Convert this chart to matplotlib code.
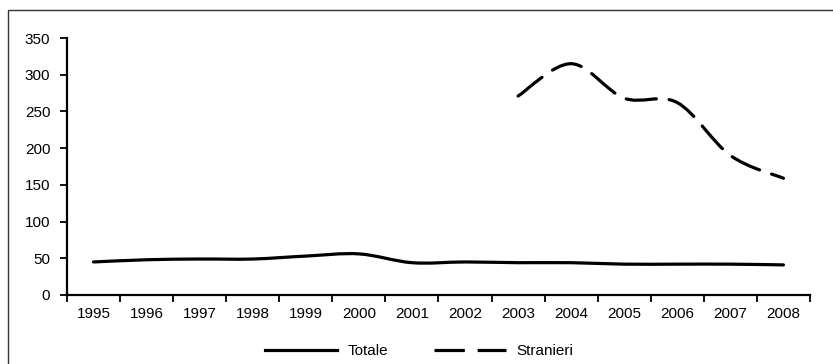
import numpy as np
import matplotlib
matplotlib.use("Agg")
import matplotlib.pyplot as plt
from matplotlib.path import Path
from matplotlib.patches import PathPatch, Rectangle
from matplotlib.lines import Line2D

plt.rcParams['font.family'] = ['Liberation Sans', 'DejaVu Sans']

years = ['1995', '1996', '1997', '1998', '1999', '2000', '2001',
         '2002', '2003', '2004', '2005', '2006', '2007', '2008']
totale = [45, 48, 49, 49, 53, 56, 44, 45, 44, 44, 42, 42, 42, 41]
stranieri_years = ['2003', '2004', '2005', '2006', '2007', '2008']
stranieri = [271, 315, 268, 262, 190, 159]


def smooth_path(x, y):
    """Cubic Bezier path through the points (spreadsheet-style smoothed line)."""
    pts = np.column_stack([x, y]).astype(float)
    n = len(pts)
    verts = [pts[0]]
    codes = [Path.MOVETO]
    for i in range(n - 1):
        p0 = pts[i - 1] if i > 0 else pts[i]
        p1 = pts[i]
        p2 = pts[i + 1]
        p3 = pts[i + 2] if i + 2 < n else pts[i + 1]
        c1 = p1 + (p2 - p0) / 6.0
        c2 = p2 - (p3 - p1) / 6.0
        verts += [c1, c2, p2]
        codes += [Path.CURVE4] * 3
    return Path(verts, codes)


fig = plt.figure(figsize=(8.33, 3.64), dpi=100)

# outer frame of the chart area
fig.patches.append(Rectangle((8 / 833, -0.1), 1.2, 1 - 10 / 364 + 0.1,
                             transform=fig.transFigure, fill=False,
                             edgecolor='#333333', linewidth=1.0))

ax = fig.add_axes([67 / 833, 1 - 295 / 364, (810 - 67) / 833, (295 - 38) / 364])

x_tot = np.arange(len(years))
x_str = np.array([years.index(y) for y in stranieri_years])

ax.add_patch(PathPatch(smooth_path(x_tot, totale), fill=False,
                       edgecolor='black', linewidth=2.3, capstyle='round'))
dash = (0, (9.5, 4.0))
ax.add_patch(PathPatch(smooth_path(x_str, stranieri), fill=False,
                       edgecolor='black', linewidth=2.3, linestyle=dash,
                       capstyle='round'))

ax.set_xlim(-0.5, len(years) - 0.5)
ax.set_ylim(0, 350)
ax.set_yticks(np.arange(0, 351, 50))
ax.set_xticks(x_tot)
ax.set_xticklabels(years)
ax.set_xticks(np.arange(-0.5, len(years)), minor=True)

for s in ['top', 'right']:
    ax.spines[s].set_visible(False)
for s in ['left', 'bottom']:
    ax.spines[s].set_linewidth(1.6)

ax.tick_params(axis='x', which='major', length=0, pad=9, labelsize=11)
ax.tick_params(axis='x', which='minor', length=5, width=1.3, direction='out')
ax.tick_params(axis='y', length=5, width=1.3, direction='out', pad=7, labelsize=11)

handles = [Line2D([], [], color='black', linewidth=2.3),
           Line2D([], [], color='black', linewidth=2.3, linestyle=dash)]
fig.legend(handles, ['Totale', 'Stranieri'], loc='center',
           bbox_to_anchor=(419 / 833, 1 - 351 / 364), ncol=2, frameon=False,
           fontsize=11, handlelength=4.7, handletextpad=0.7, columnspacing=3.0)

fig.savefig('out.png', dpi=100)
